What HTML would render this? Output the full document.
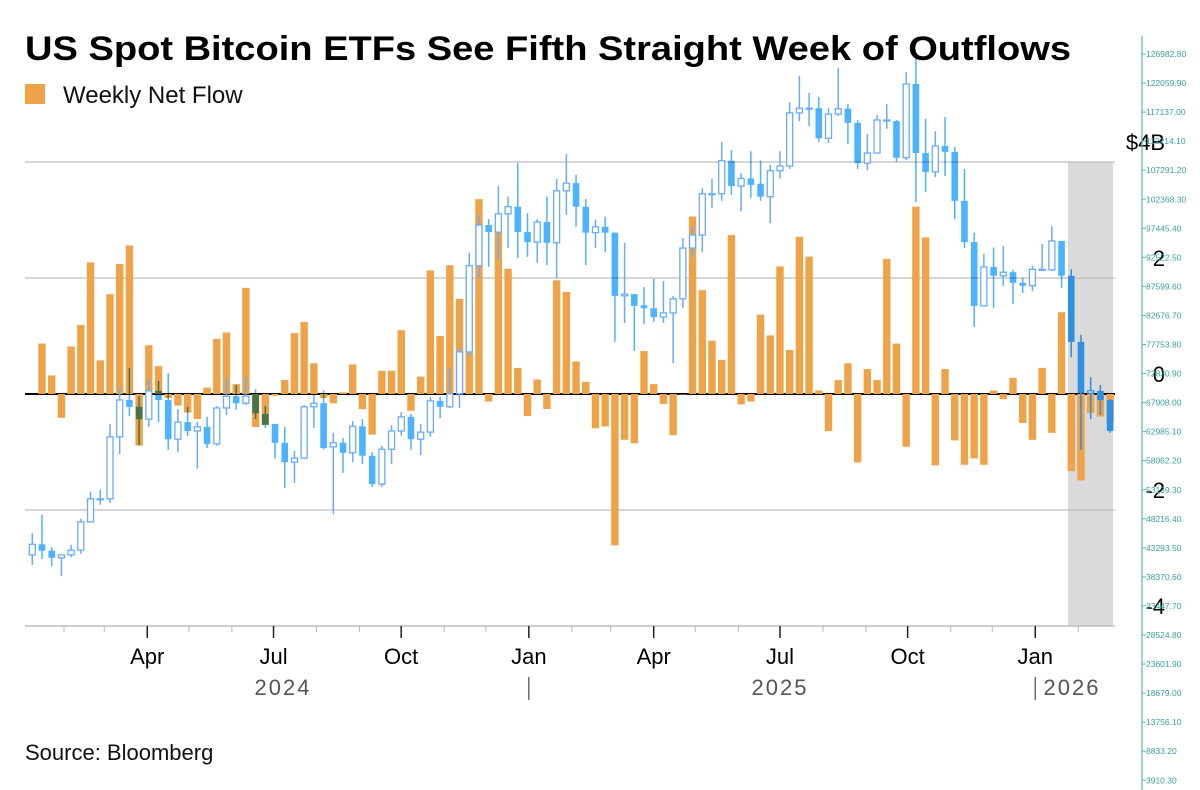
<!DOCTYPE html>
<html><head><meta charset="utf-8"><style>
html,body{margin:0;padding:0;background:#fff;}
svg{display:block;font-family:"Liberation Sans",sans-serif;}
</style></head><body>
<svg id="chart" width="1200" height="790" viewBox="0 0 1200 790" xmlns="http://www.w3.org/2000/svg">
<text x="25" y="60" font-size="34" font-weight="bold" textLength="1046" lengthAdjust="spacingAndGlyphs" fill="#000">US Spot Bitcoin ETFs See Fifth Straight Week of Outflows</text>
<g>
<rect x="25" y="84" width="20" height="20" fill="#efa349"/>
<text x="63" y="103" font-size="24" fill="#111">Weekly Net Flow</text>
</g>
<rect x="1068" y="162" width="45" height="464" fill="#dadada"/>
<g id="grid"></g>
<g id="bars"></g>
<g id="candles"></g>
<g id="axes"></g>
<text x="25" y="760" font-size="22" fill="#111">Source: Bloomberg</text>
</svg>
<script>
const flows=[0.87,0.32,-0.41,0.82,1.19,2.27,0.58,1.72,2.24,2.56,-0.89,0.84,0.48,-0.07,-0.2,-0.32,-0.43,0.11,0.95,1.06,0.17,1.83,-0.57,-0.53,-0.03,0.24,1.05,1.24,0.53,-0.07,-0.16,0.03,0.51,-0.26,-0.7,0.4,0.4,1.1,-0.29,0.3,2.13,1.0,2.22,1.64,1.67,3.36,-0.13,2.85,2.16,0.45,-0.38,0.25,-0.26,1.96,1.76,0.56,0.21,-0.59,-0.56,-2.61,-0.79,-0.85,0.74,0.17,-0.17,-0.71,0.0,3.06,1.79,0.92,0.59,2.74,-0.18,-0.13,1.37,1.01,2.2,0.76,2.71,2.37,0.06,-0.64,0.24,0.53,-1.18,0.43,0.24,2.33,0.87,-0.91,3.23,2.7,-1.23,0.43,-0.8,-1.22,-1.11,-1.22,0.06,-0.09,0.28,-0.5,-0.79,0.45,-0.67,1.41,-1.33,-1.49,-0.33,-0.39,-0.49];
const opens=[42100,43900,42800,41600,42100,42900,47700,51600,51600,62100,68350,67200,65100,69900,68350,61700,64600,63100,63800,60900,67000,69000,67800,69400,66000,64300,61100,57800,58500,67200,67800,60400,61100,59400,63900,58900,54100,60000,63100,65500,61700,62900,68200,67200,69400,76500,91100,98000,96800,99900,101100,96800,95100,98500,95000,103800,105100,101100,96700,97700,96700,86000,86300,84400,83900,82400,83100,85500,94100,96300,103300,103300,108900,104600,105900,105000,102800,107200,108000,117000,117800,117800,112700,116800,117700,115300,108500,110200,115800,115600,109400,121900,110200,107000,111400,110400,102100,95100,84300,90900,89400,90000,88200,87700,90500,90400,95300,89400,78200,69500,69900,68350];
const closes=[43900,42800,41600,42100,42900,47700,51600,51600,62100,68350,67200,65100,69900,68350,61700,64600,63100,63800,60900,67000,69000,67800,69000,66100,64100,61100,57800,58500,67200,67800,60200,61100,59400,63900,58900,54100,60000,63100,65500,61700,62900,68200,67200,69400,76500,91100,98000,96800,99900,101100,96800,95100,98500,95000,103800,105100,101100,96700,97700,96700,86000,86300,84300,83900,82400,83100,85500,94100,96300,103300,103300,108900,104600,105900,104800,102800,107200,108000,117000,117800,117800,112700,116800,117700,115300,108500,110200,115800,115800,109400,121900,110200,107000,111400,110400,102100,95100,84300,90900,89400,90000,88200,87700,90500,90500,95300,89400,78200,69500,69900,68350,63100];
const highs=[45800,48900,43400,42100,43800,48200,52800,53100,64300,70400,73800,69000,71900,71600,72900,66800,67200,64600,65500,67300,72100,70900,72200,70200,67300,64300,63800,59700,67500,69200,70000,62800,61900,64800,65100,59500,60600,64100,66300,66000,64300,68900,68900,73800,77200,93300,99700,99000,104600,102800,108500,100000,99000,102800,105800,110000,106500,102400,98900,99400,96700,95000,86300,87500,88900,88500,86000,95800,97700,104300,105800,112100,110700,106800,110500,108900,108200,110500,118800,123300,120400,119700,117800,124600,118500,115800,113400,116600,118500,115800,123900,126300,116000,113900,116300,111200,107500,96700,93100,94200,94400,90400,89000,91100,94800,97800,95300,90500,79400,72200,70900,68500];
const lows=[40400,41400,40200,38500,41700,42300,47700,50600,50900,59200,65600,60700,63800,64600,59900,59500,62250,56700,60200,60600,65800,66700,67500,65100,63600,58400,53400,54300,58400,63600,60000,49000,56000,57800,57500,53600,53600,57500,62300,59900,59000,62100,65300,67000,67000,75800,89000,90900,92100,94100,92400,92600,91600,91200,89000,99700,97700,91200,94100,93400,78200,81400,76700,81200,81600,81400,74600,83900,92600,93400,100900,102100,103100,100300,102600,102100,98300,105900,107500,115600,114800,112100,111900,116500,111700,107500,107300,110200,114300,108700,109000,101900,103600,106100,106300,99000,94100,80700,84300,83900,87700,84600,86500,86800,90400,90200,87300,75600,59900,65100,65800,62800];
const flowTicks=[4,2,0,-2,-4];
const flowTickLabels=["$4B","2","0","-2","-4"];
const priceTickStart=126982.8, priceTickStep=4922.9, priceTickCount=26;
const monthLabels=["Apr","Jul","Oct","Jan","Apr","Jul","Oct","Jan"];
const monthLabelDates=["2024-04-01","2024-07-01","2024-10-01","2025-01-01","2025-04-01","2025-07-01","2025-10-01","2026-01-01"];

const NS="http://www.w3.org/2000/svg";
function mk(tag,attrs,parent){const e=document.createElementNS(NS,tag);for(const k in attrs)e.setAttribute(k,attrs[k]);parent.appendChild(e);return e;}
const yFlow=v=>394-v*58;
const yPrice=p=>54+(priceTickStart-p)/priceTickStep*29.05;
const xBar=i=>42+9.71*i;
const t0=Date.UTC(2024,0,1);
const xDate=s=>{const d=(Date.parse(s)-t0)/86400000;return 21+1.3875*d;};
const grid=document.getElementById('grid');
flowTicks.forEach((v,k)=>{
  if(v!==0){const l=mk('line',{x1:25,x2:1115,y1:yFlow(v),y2:yFlow(v),stroke:'#bdbdbd','stroke-width':1.3},grid);
  
  }
});
const bars=document.getElementById('bars');
flows.forEach((v,i)=>{
  const y0=yFlow(0),y1=yFlow(v);
  const r=mk('rect',{x:xBar(i)-3.7,y:Math.min(y0,y1),width:7.4,height:Math.max(0.5,Math.abs(y1-y0)),fill:'#efa349'},bars);
  
  
});
const zl=mk('line',{x1:25,x2:1115,y1:394,y2:394,stroke:'#000','stroke-width':2},grid);


const cg=document.getElementById('candles');
opens.forEach((o,k)=>{
  const i=k-1,x=xBar(i),c=closes[k],h=highs[k],l=lows[k];
  const up=c>=o;const shaded=i>=106;
  const col=shaded?'#2f8fe0':(up?'#6aabff':'#4db3ff');
  const g=mk('g',{},cg);
  
  
  if(!up&&!shaded)g.setAttribute('style','mix-blend-mode:multiply');
  mk('line',{x1:x,x2:x,y1:yPrice(h),y2:yPrice(l),stroke:col,'stroke-width':1.5},g);
  const yt=yPrice(Math.max(o,c)),yb=yPrice(Math.min(o,c));
  if(up){mk('rect',{x:x-3,y:yt,width:6,height:Math.max(1,yb-yt),fill:'#fff',stroke:col,'stroke-width':1.3},g);}
  else{mk('rect',{x:x-3.3,y:yt,width:6.6,height:Math.max(1.5,yb-yt),fill:col},g);}
});
const ax=document.getElementById('axes');
mk('line',{x1:25,x2:1115,y1:626,y2:626,stroke:'#bdbdbd','stroke-width':1.3},ax);
flowTicks.forEach((v,k)=>{
  const t=mk('text',{x:1165,y:yFlow(v)-12,'font-size':22,'text-anchor':'end',fill:'#000'},ax);
  t.textContent=flowTickLabels[k];
  
  
});
const pa=mk('line',{x1:1142,x2:1142,y1:36,y2:790,stroke:'#5fb5b5','stroke-width':1.2},ax);


for(let n=0;n<priceTickCount;n++){
  const p=priceTickStart-n*priceTickStep,y=yPrice(p);
  mk('line',{x1:1142,x2:1146,y1:y,y2:y,stroke:'#5fb5b5','stroke-width':1},ax);
  const t=mk('text',{x:1146,y:y+3,'font-size':8.5,fill:'#3aa0a0'},ax);
  t.textContent=p.toFixed(2);
  
  
}
for(let m=1;m<=26;m++){
  const yr=2024+Math.floor(m/12),mo=m%12;
  const d=`${yr}-${String(mo+1).padStart(2,'0')}-01`;
  const x=xDate(d);if(x>1115)break;
  const major=(mo%3===0);
  mk('line',{x1:x,x2:x,y1:626,y2:major?638:632,stroke:major?'#222':'#bbb','stroke-width':major?1.5:1},ax);
}
monthLabels.forEach((s,k)=>{
  const t=mk('text',{x:xDate(monthLabelDates[k]),y:664,'font-size':22,'text-anchor':'middle',fill:'#000'},ax);
  t.textContent=s;
  
  
});
[["2024",283],["2025",780],["2026",1072]].forEach(([s,x])=>{
  const t=mk('text',{x:x,y:695,'font-size':22,'text-anchor':'middle',fill:'#555','letter-spacing':'2'},ax);
  t.textContent=s;
  
  
});
[xDate("2025-01-01"),xDate("2026-01-01")].forEach(x=>mk('line',{x1:x,x2:x,y1:677,y2:700,stroke:'#555','stroke-width':1.3},ax));
</script>
</body></html>
